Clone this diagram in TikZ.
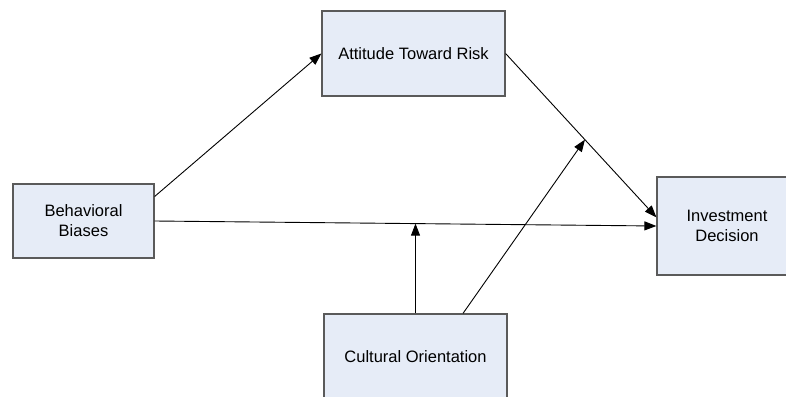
\documentclass[tikz,border=0pt]{standalone}
\usepackage{fontspec}
\setmainfont{Liberation Sans}
\usetikzlibrary{arrows.meta,calc}
\definecolor{boxfill}{HTML}{E6ECF7}
\definecolor{boxline}{HTML}{5A5A5A}
\tikzset{
  box/.style={draw=boxline, line width=1.2pt, fill=boxfill, rectangle, inner sep=0pt,
    font=\fontsize{16.5}{20}\selectfont, align=center},
  conn/.style={draw=black, line width=0.9pt, -{Triangle[length=12pt,width=9pt]}}
}
\begin{document}
\begin{tikzpicture}[x=1pt,y=-1pt]
\useasboundingbox (0,0) rectangle (786,396);
\node[box, minimum width=183pt, minimum height=85pt] (att) at (413.5,53.5) {Attitude Toward Risk};
\node[box, minimum width=141pt, minimum height=74pt] (beh) at (83.5,221) {Behavioral\\Biases};
\node[box, minimum width=140pt, minimum height=98pt] (inv) at (727,226) {Investment\\Decision};
\node[box, minimum width=183pt, minimum height=86pt] (cul) at (415.5,357) {Cultural Orientation};
\draw[conn] (beh.19) -- (att.west);
\draw[conn] (beh.east) -- (inv.west);
\draw[conn] (att.east) -- (inv.173);
\coordinate (m1) at ($(beh.east)!0.52!(inv.west)$);
\coordinate (m2) at ($(att.east)!0.526!(inv.173)$);
\draw[conn] (cul.north) -- (cul.north |- m1);
\draw[conn] ($(cul.north)+(47.5,0)$) -- (m2);
\end{tikzpicture}
\end{document}
